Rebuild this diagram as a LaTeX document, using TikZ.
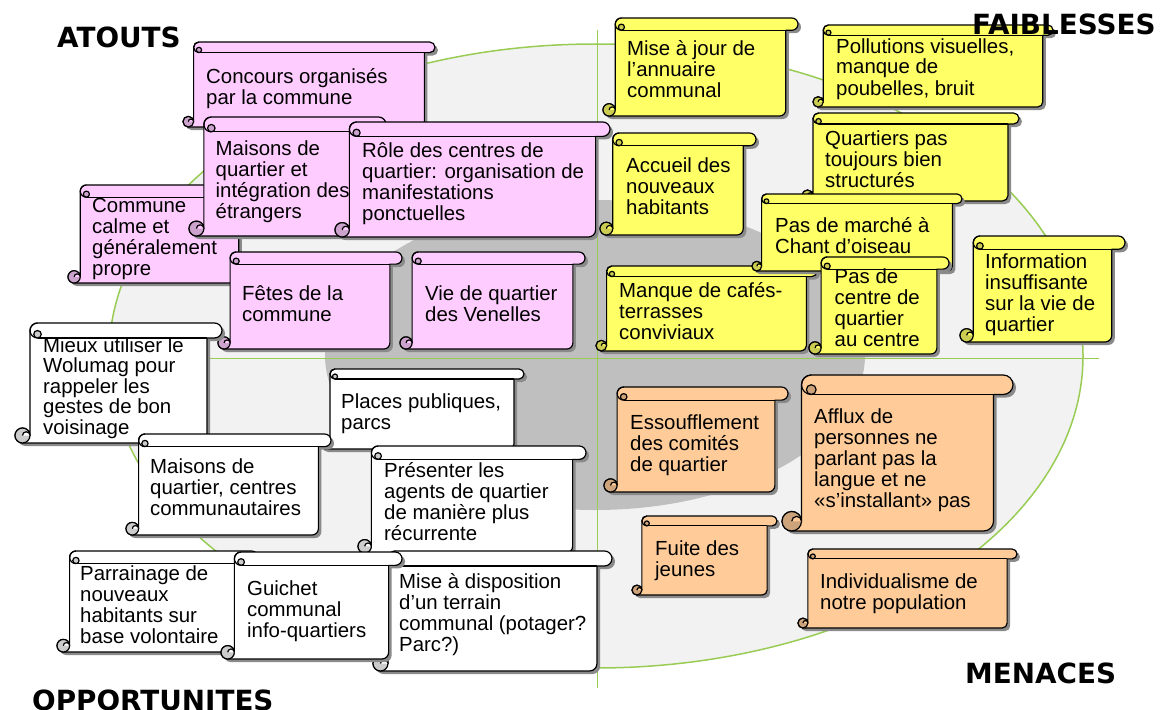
\documentclass[tikz,border=0pt]{standalone}
\usepackage{fontspec}
\setmainfont{Liberation Sans}
\newfontfamily\titlefont{DejaVu Sans}

\definecolor{rose}{HTML}{FFCCFF}
\definecolor{rosefonce}{HTML}{CCA3CC}
\definecolor{jaune}{HTML}{FFFF66}
\definecolor{jaunefonce}{HTML}{CCCC52}
\definecolor{peche}{HTML}{FFCC99}
\definecolor{pechefonce}{HTML}{CCA37A}
\definecolor{blanc}{HTML}{FFFFFF}
\definecolor{blancfonce}{HTML}{CCCCCC}
\definecolor{fondclair}{HTML}{F2F2F2}
\definecolor{fondgris}{HTML}{BFBFBF}
\definecolor{vertaxe}{HTML}{99CC55}
\definecolor{ombre}{HTML}{8A8A8A}

% scroll: left, top, right, bottom, colour, curl colour
\newcommand{\parchemin}[6]{%
  \pgfmathsetmacro{\pcC}{0.125*min(#3-#1,#4-#2)}%
  \pgfmathsetmacro{\pcH}{\pcC/2}%
  \pgfmathsetmacro{\pcXl}{#1+\pcC}%
  \pgfmathsetmacro{\pcXr}{#3-\pcC}%
  \fill[ombre, shift={(3,3)}] (\pcXl+\pcH,#2) -- (#3-\pcH,#2) arc[start angle=-90,end angle=90,radius=\pcH]
    -- (\pcXr,#2+\pcC) -- (\pcXr,#4-\pcH) arc[start angle=0,end angle=90,radius=\pcH]
    -- (#1+\pcH,#4) arc[start angle=90,end angle=360,radius=\pcH]
    -- (\pcXl,#2+\pcH) arc[start angle=180,end angle=270,radius=\pcH] -- cycle;
  \filldraw[fill=#5, trait] (\pcXl+\pcH,#2) -- (#3-\pcH,#2) arc[start angle=-90,end angle=90,radius=\pcH]
    -- (\pcXr,#2+\pcC) -- (\pcXr,#4-\pcH) arc[start angle=0,end angle=90,radius=\pcH]
    -- (#1+\pcH,#4) arc[start angle=90,end angle=360,radius=\pcH]
    -- (\pcXl,#2+\pcH) arc[start angle=180,end angle=270,radius=\pcH] -- cycle;
  \draw[trait] (\pcXl+\pcH,#2+\pcC) -- (\pcXr,#2+\pcC);
  \filldraw[fill=#6, trait] (\pcXl+\pcH,#2+1.5*\pcH) circle[radius=\pcH/2];
  \draw[trait] (\pcXl+\pcH,#2) arc[start angle=270,end angle=90,radius=\pcH];
  \filldraw[fill=#6, trait] (#1+\pcH,#4-\pcH) circle[radius=\pcH];
  \filldraw[fill=#5, trait] (#1+\pcH,#4-\pcH) arc[start angle=180,end angle=360,radius=\pcH/2];
}

\tikzset{
  trait/.style={draw=black, line width=1.2pt, line join=round},
  % anchor is the baseline of the last line
  texte/.style={anchor=base west, inner sep=0pt, align=left, font=\fontsize{20.4}{21}\selectfont},
  titre/.style={anchor=base west, inner sep=0pt, font=\titlefont\bfseries\fontsize{27.8}{30}\selectfont}
}

\begin{document}
\begin{tikzpicture}[x=1pt, y=-1pt]
\useasboundingbox (0,0) rectangle (1161,709);
\fill[white] (0,0) rectangle (1161,709);

% Background
\filldraw[fill=fondclair, draw=vertaxe, line width=1.5pt] (596,356) ellipse[x radius=487, y radius=312];
\fill[fondgris] (595,355) ellipse[x radius=270, y radius=155];
\draw[vertaxe, line width=1pt] (597,30) -- (597,688);
\draw[vertaxe, line width=1pt] (95,358) -- (1099,358);

% Atouts
\parchemin{183}{42}{435}{127}{rose}{rosefonce}
\node[texte] (Concours) at (206,104) {Concours organisés\\par la commune};
\parchemin{68}{185}{251}{283}{rose}{rosefonce}
\node[texte] (Commune) at (92,275) {Commune\\calme et\\généralement\\propre};
\parchemin{189}{117}{386}{236}{rose}{rosefonce}
\node[texte] (MaisonsInt) at (215.5,218) {Maisons de\\quartier et\\intégration des\\étrangers};
\parchemin{335}{122}{610}{237}{rose}{rosefonce}
\node[texte] (Role) at (362,220) {Rôle des centres de\\quartier: organisation de\\manifestations\\ponctuelles};
\parchemin{218}{252}{402}{349}{rose}{rosefonce}
\node[texte] (Fetes) at (242,321) {Fêtes de la\\commune};
\parchemin{400}{252}{585}{349}{rose}{rosefonce}
\node[texte] (Vie) at (425,321) {Vie de quartier\\des Venelles};

% Opportunites
\parchemin{320}{369}{524}{449}{blanc}{blancfonce}
\node[texte] (Places) at (341,429) {Places publiques,\\parcs};
\parchemin{15}{323}{222}{443}{blanc}{blancfonce}
\node[texte, font=\fontsize{20.4}{20.5}\selectfont] (Mieux) at (43,434) {Mieux utiliser le\\Wolumag pour\\rappeler les\\gestes de bon\\voisinage};
\parchemin{126}{434}{331}{535}{blanc}{blancfonce}
\node[texte] (MaisonsCentres) at (150,515) {Maisons de\\quartier, centres\\communautaires};
\parchemin{358}{446}{586}{553}{blanc}{blancfonce}
\node[texte] (Presenter) at (384,540) {Présenter les\\agents de quartier\\de manière plus\\récurrente};
\parchemin{57}{551}{258}{652}{blanc}{blancfonce}
\node[texte] (Parrainage) at (80,643) {Parrainage de\\nouveaux\\habitants sur\\base volontaire};
\parchemin{373}{551}{612}{671}{blanc}{blancfonce}
\node[texte] (MiseDispo) at (399,651) {Mise à disposition\\d’un terrain\\communal (potager?\\Parc?)};
\parchemin{221}{552}{402}{659}{blanc}{blancfonce}
\node[texte] (Guichet) at (247,637) {Guichet\\communal\\info-quartiers};

% Faiblesses
\parchemin{603}{18}{798}{116}{jaune}{jaunefonce}
\node[texte] (MiseJour) at (627,97) {Mise à jour de\\l’annuaire\\communal};
\parchemin{813}{25}{1053}{107}{jaune}{jaunefonce}
\node[texte] (Pollutions) at (836,95) {Pollutions visuelles,\\manque de\\poubelles, bruit};
\parchemin{802}{113}{1019}{201}{jaune}{jaunefonce}
\node[texte] (Quartiers) at (825,187) {Quartiers pas\\toujours bien\\structurés};
\parchemin{600}{133}{756}{235}{jaune}{jaunefonce}
\node[texte] (Accueil) at (626,214) {Accueil des\\nouveaux\\habitants};
\parchemin{596}{266}{817}{351}{jaune}{jaunefonce}
\node[texte] (Manque) at (619,339) {Manque de cafés-\\terrasses\\conviviaux};
\parchemin{752}{194}{962}{271}{jaune}{jaunefonce}
\node[texte] (Marche) at (775,253) {Pas de marché à\\Chant d’oiseau};
\parchemin{809}{257}{949}{354}{jaune}{jaunefonce}
\node[texte] (CentreQ) at (834.5,346) {Pas de\\centre de\\quartier\\au centre};
\parchemin{960}{236}{1125}{342}{jaune}{jaunefonce}
\node[texte] (Information) at (985,331) {Information\\insuffisante\\sur la vie de\\quartier};

% Menaces
\parchemin{604}{387}{788}{492}{peche}{pechefonce}
\node[texte] (Essoufflement) at (630,471) {Essoufflement\\des comités\\de quartier};
\parchemin{782}{375}{1013}{531}{peche}{pechefonce}
\node[texte] (Afflux) at (814,507) {Afflux de\\personnes ne\\parlant pas la\\langue et ne\\«s’installant» pas};
\parchemin{632}{516}{777}{595}{peche}{pechefonce}
\node[texte] (Fuite) at (655,576) {Fuite des\\jeunes};
\parchemin{798}{549}{1017}{628}{peche}{pechefonce}
\node[texte] (Individualisme) at (820,609) {Individualisme de\\notre population};

% Titles
\node[titre] (Atouts) at (57,48) {ATOUTS};
\node[titre] (Faiblesses) at (972,35) {FAIBLESSES};
\node[titre] (Menaces) at (965,683) {MENACES};
\node[titre] (Opportunites) at (32,710) {OPPORTUNITES};
\end{tikzpicture}
\end{document}
